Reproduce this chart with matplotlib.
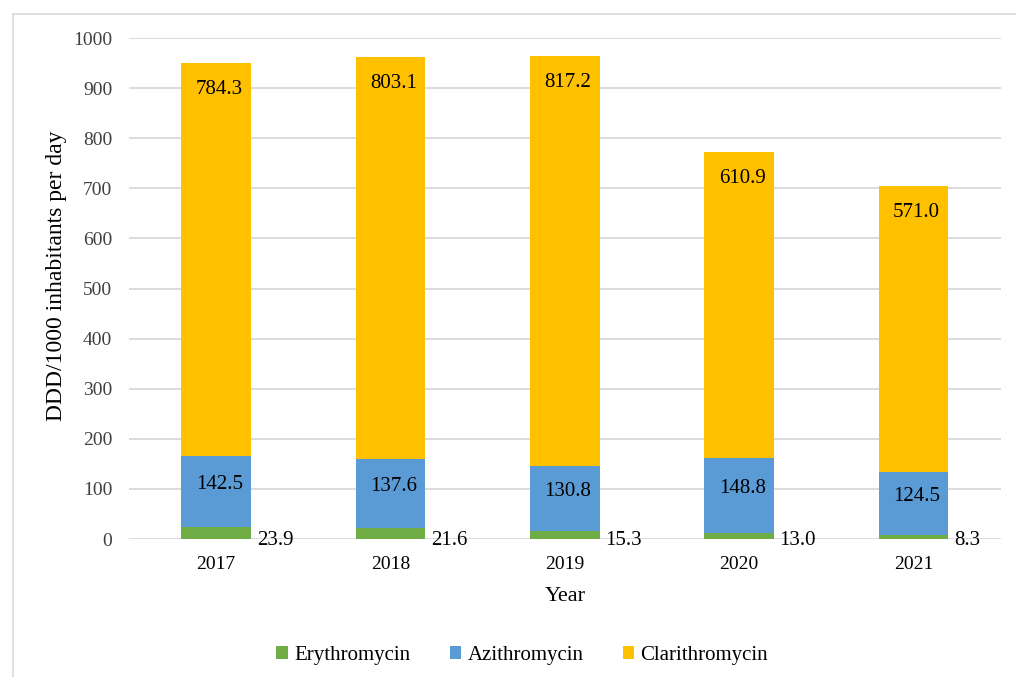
import numpy as np
import matplotlib
matplotlib.use("Agg")
import matplotlib.pyplot as plt
from matplotlib.lines import Line2D

# DDD/1000 inhabitants per day by year
years = ["2017", "2018", "2019", "2020", "2021"]
erythromycin = [23.9, 21.6, 15.3, 13.0, 8.3]
azithromycin = [142.5, 137.6, 130.8, 148.8, 124.5]
clarithromycin = [784.3, 803.1, 817.2, 610.9, 571.0]

plt.rcParams['font.family'] = ['Liberation Serif', 'DejaVu Serif']

fig = plt.figure(figsize=(10.16, 6.77), dpi=100)
ax = fig.add_axes([0.127, 0.2038, 0.858, 0.740])

x = np.arange(len(years))
w = 0.4
ery = np.array(erythromycin)
azi = np.array(azithromycin)
cla = np.array(clarithromycin)

b1 = ax.bar(x, ery, w, color='#70AD47', label='Erythromycin', zorder=3)
b2 = ax.bar(x, azi, w, bottom=ery, color='#5B9BD5', label='Azithromycin', zorder=3)
b3 = ax.bar(x, cla, w, bottom=ery + azi, color='#FFC000', label='Clarithromycin', zorder=3)

fs = 15
for i in range(len(years)):
    right = x[i] + w / 2
    # erythromycin: beside the bar at the base
    ax.annotate(f"{ery[i]:.1f}", (right, 0), xytext=(4, -1), textcoords='offset points',
                ha='left', va='center', fontsize=fs, zorder=4)
    # azithromycin: inside the segment, right aligned
    ax.annotate(f"{azi[i]:.1f}", (right, ery[i] + azi[i] / 2), xytext=(-6, 5),
                textcoords='offset points', ha='right', va='center', fontsize=fs, zorder=4)
    # clarithromycin: near the top of the bar
    ax.annotate(f"{cla[i]:.1f}", (right, ery[i] + azi[i] + cla[i]), xytext=(-6, -19),
                textcoords='offset points', ha='right', va='center', fontsize=fs, zorder=4)

ax.set_xlim(-0.5, len(years) - 0.5)
ax.set_ylim(0, 1000)
ax.set_yticks(np.arange(0, 1001, 100))
ax.set_xticks(x)
ax.set_xticklabels(years)
ax.tick_params(axis='both', length=0, labelsize=14, labelcolor='#404040')
ax.tick_params(axis='x', pad=12, labelcolor='black')
ax.tick_params(axis='y', pad=12)
ax.grid(axis='y', color='#D9D9D9', linewidth=1.3, zorder=0)
for s in ax.spines.values():
    s.set_visible(False)

ax.set_xlabel("Year", fontsize=16, labelpad=10)
ax.set_ylabel("DDD/1000 inhabitants per day", fontsize=17)
ax.yaxis.set_label_coords(-0.071, 0.525)

fig.legend(handles=[b1, b2, b3], loc='center', bbox_to_anchor=(0.514, 0.032), ncol=3,
           frameon=False, fontsize=15, handlelength=0.55, handleheight=0.55,
           handletextpad=0.3, columnspacing=1.9)

# light frame around the chart area
fig.add_artist(Line2D([13 / 1016, 1.0], [1 - 14 / 677, 1 - 14 / 677],
                      transform=fig.transFigure, color='#D9D9D9', linewidth=1.2))
fig.add_artist(Line2D([13 / 1016, 13 / 1016], [0.0, 1 - 14 / 677],
                      transform=fig.transFigure, color='#D9D9D9', linewidth=1.2))

fig.savefig("out.png", dpi=100)
